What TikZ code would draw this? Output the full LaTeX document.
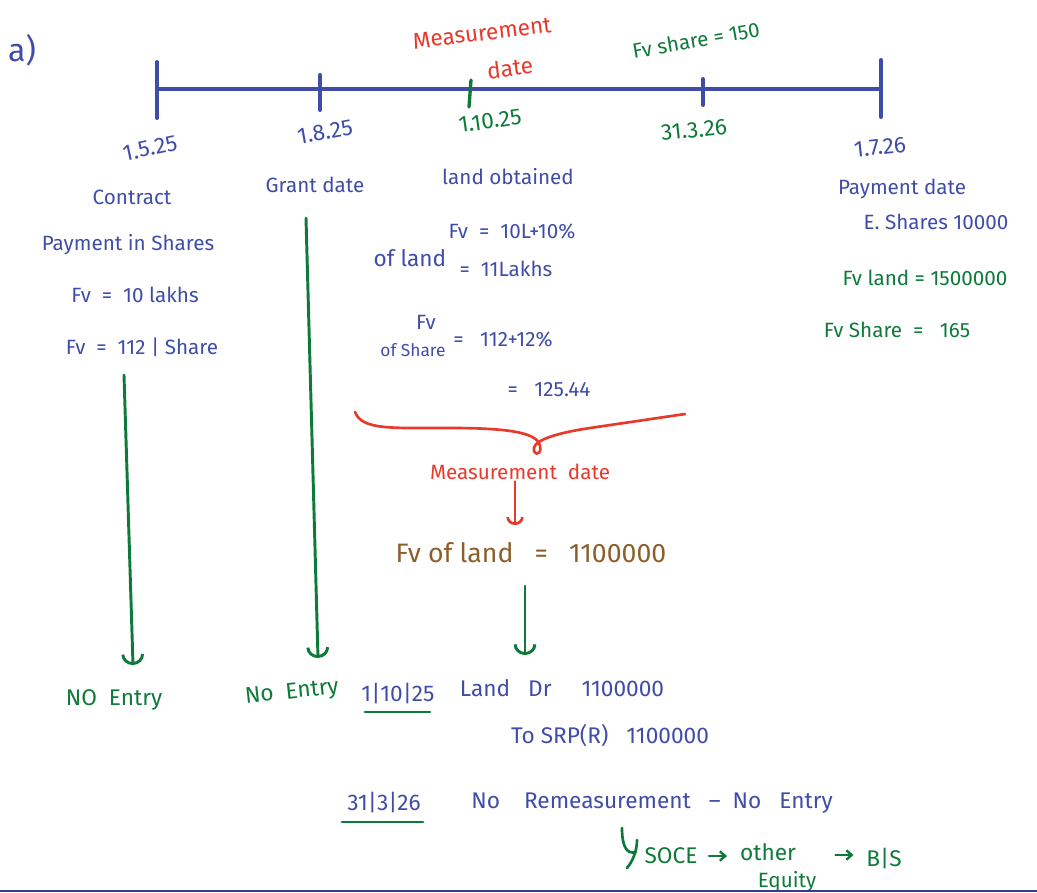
\documentclass[tikz,border=0pt]{standalone}
\usepackage{fontspec}
\setmainfont{Fira Sans}
\usetikzlibrary{arrows.meta}
\definecolor{ink}{HTML}{3F4DA8}
\definecolor{leaf}{HTML}{0E7A3A}
\definecolor{alert}{HTML}{E8392A}
\definecolor{earth}{HTML}{8C5E2C}
\begin{document}
\begin{tikzpicture}[x=0.75pt,y=-0.75pt,
  hw/.style={inner sep=1pt,font=\fontsize{15.5}{17}\selectfont},
  inkt/.style={hw,text=ink},
  leaft/.style={hw,text=leaf},
  alertt/.style={hw,text=alert},
  big/.style={font=\fontsize{17}{19}\selectfont},
  eartht/.style={hw,text=earth,font=\fontsize{20}{22}\selectfont},
  axis/.style={draw=ink,line width=3pt,line cap=round},
  downarrow/.style={draw=leaf,line width=2.2pt,line cap=round,-{Arc Barb[width=17pt,length=8pt,line width=2.2pt]}},
  redarrow/.style={draw=alert,line width=2pt,line cap=round,-{Arc Barb[width=13pt,length=6pt,line width=2pt]}},
  smallarrow/.style={draw=leaf,line width=1.8pt,line cap=round,-{Straight Barb[width=7pt,length=4pt,line width=1.8pt]}},
  uline/.style={draw=leaf,line width=2.2pt,line cap=round},
]
\useasboundingbox (0,0) rectangle (1037,892);

% part label
\node[inkt,font=\fontsize{24}{26}\selectfont] (part) at (22,50) {a)};

% timeline and its ticks
\coordinate (t0) at (157,89);
\coordinate (t5) at (881,89);
\draw[axis] (t0) -- (t5);
\draw[axis] (157,62) -- (157,118);
\draw[axis] (320,75) -- (320,110);
\draw[draw=leaf,line width=2.5pt,line cap=round] (471,80) -- (469,107);
\draw[axis] (703,79) -- (703,105);
\draw[axis] (881,60) -- (881,117);

% dates
\node[inkt,big,rotate=12] (d1) at (150,148) {1.5.25};
\node[inkt,big,rotate=10] (d2) at (325,132) {1.8.25};
\node[leaft,big,rotate=8] (d3) at (490,121) {1.10.25};
\node[leaft,big,rotate=6] (d4) at (694,130) {31.3.26};
\node[inkt,big,rotate=6] (d5) at (880,147) {1.7.26};

% notes above the timeline
\node[alertt,big,rotate=7] (md1) at (482,33) {Measurement};
\node[alertt,big,rotate=7] (md2) at (510,68) {date};
\node[leaft,rotate=10] (fvs) at (696,40) {Fv share = 150};

% column: contract
\node[inkt] (contract) at (132,197) {Contract};
\node[inkt] (pay) at (128,245) {Payment in Shares};
\node[inkt] (fv1) at (135,295) {Fv \ = \ 10 lakhs};
\node[inkt] (fv2) at (142,347) {Fv \ = \ 112 | Share};

% column: grant date
\node[inkt] (grant) at (315,185) {Grant date};

% column: land obtained
\node[inkt] (land) at (508,177) {land obtained};
\node[inkt] (fvl) at (512,231) {Fv \ = \ 10L+10\%};
\node[inkt,font=\fontsize{17}{19}\selectfont] (ofland) at (410,258) {of land};
\node[inkt] (fvl2) at (506,269) {= \ 11Lakhs};
\node[inkt] (fvsh) at (426,322) {Fv};
\node[inkt,font=\fontsize{13}{15}\selectfont] (ofsh) at (413,350) {of Share};
\node[inkt] (fvsh2) at (503,339) {= \ \ 112+12\%};
\node[inkt] (fvsh3) at (549,390) {= \ \ 125.44};

% column: payment date
\node[inkt] (paydate) at (902,189) {Payment date};
\node[inkt] (eshares) at (936,222) {E. Shares 10000};
\node[leaft] (fvland) at (925,278) {Fv land = 1500000};
\node[leaft] (fvshare) at (897,330) {Fv Share \ = \ \ 165};

% brace over the middle column
\draw[draw=alert,line width=2pt,line cap=round]
  (355,412) .. controls (362,430) and (390,428) .. (450,428)
  .. controls (505,428) and (533,432) .. (539,443)
  .. controls (543,452) and (537,457) .. (534,451)
  .. controls (531,442) and (550,434) .. (590,428) -- (685,414);

\node[alertt] (mdate) at (520,472) {Measurement \ date};
\node[eartht] (fvofland) at (531,553) {Fv of land \ \ = \ \ 1100000};
\coordinate (rtip) at (515,525);
\draw[redarrow] (mdate.south -| rtip) -- (rtip);

% journal entry at 1/10/25
\node[inkt,big] (j1date) at (398,693) {1|10|25};
\draw[uline] (365,712) -- (430,712);
\node[inkt,big] (landdr) at (562,688) {Land \ \ Dr \ \ \ \ 1100000};
\node[inkt,big] (tosrp) at (610,736) {To SRP(R) \ \ 1100000};
\coordinate (gtip) at (525,655);
\draw[downarrow,shorten <=16pt] (fvofland.south -| gtip) -- (gtip);

% no entry outcomes
\node[leaft,big] (ne1) at (114,700) {NO \ Entry};
\node[leaft,big,rotate=6] (ne2) at (292,693) {No \ Entry};
\coordinate (a1) at (124,375);
\coordinate (a2) at (306,218);
\draw[downarrow] (a1) -- (133,665);
\draw[downarrow] (a2) -- (318,658);

% year end 31/3/26
\node[inkt,big] (j2date) at (384,802) {31|3|26};
\draw[uline] (342,822) -- (423,822);
\node[inkt,big] (nore) at (652,803) {No \ \ \ Remeasurement \ \ -- \ No \ \ Entry};

% flow to the balance sheet
\draw[draw=leaf,line width=2pt,line cap=round]
  (622,828) .. controls (622,845) and (626,855) .. (636,852)
  (637,840) .. controls (637,852) and (632,862) .. (627,868);
\node[leaft,big] (soce) at (671,856) {SOCE};
\node[leaft,big] (other) at (768,852) {other};
\node[leaft] (equity) at (787,882) {Equity};
\node[leaft,big] (bs) at (884,858) {B|S};
\draw[smallarrow] (soce.east) ++(10,0) -- ++(18,0);
\draw[smallarrow] (other.east) ++(38,3) -- ++(18,0);

% page edge
\draw[draw=ink!80!black,line width=1.2pt] (0,891) -- (1037,891);
\end{tikzpicture}
\end{document}
